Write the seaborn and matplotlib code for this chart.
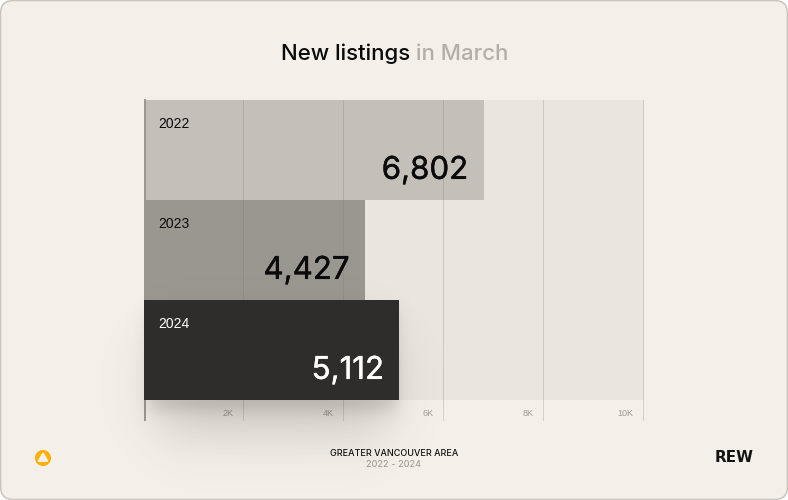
import numpy as np
import pandas as pd
import seaborn as sns
import matplotlib
matplotlib.use("Agg")
import matplotlib.pyplot as plt
import matplotlib.patheffects as pe
from matplotlib.patches import FancyBboxPatch, Circle, Polygon
from matplotlib.transforms import ScaledTranslation

years = ["2022", "2023", "2024"]
listings = [6802, 4427, 5112]
bar_colors = ["#C4BFB8", "#9A9690", "#2F2D2B"]
label_colors = ["#0A0A0A", "#0A0A0A", "#FFFFFF"]
tick_values = [2000, 4000, 6000, 8000, 10000]
tick_labels = ["2K", "4K", "6K", "8K", "10K"]

W, H = 788, 500
CARD = "#F4F0E9"
TRACK = "#EAE5DE"
FONT = ["Inter", "DejaVu Sans"]
NUM_FONT = ["Liberation Sans", "DejaVu Sans"]

sns.set_theme(style="white")
plt.rcParams["font.family"] = FONT

fig = plt.figure(figsize=(W / 100, H / 100), dpi=100, facecolor="white")

# Everything outside the chart is placed in pixel coordinates on a full-size layer
page = fig.add_axes([0, 0, 1, 1], zorder=0)
page.set_xlim(0, W)
page.set_ylim(H, 0)
page.axis("off")
page.add_patch(FancyBboxPatch((0.5, 0.5), W - 1, H - 1, boxstyle="round,pad=0,rounding_size=13",
                              fc=CARD, ec="#C9C5BD", lw=1.1))

ax = fig.add_axes([143.5 / W, 1 - 420 / H, 500 / W, 320 / H], zorder=1)
ax.patch.set_alpha(0)

df = pd.DataFrame({"year": years, "listings": listings})
sns.barplot(data=df, x="listings", y="year", hue="year", palette=bar_colors, order=years,
            hue_order=years, width=1.0, orient="h", legend=False, saturation=1,
            linewidth=0, ax=ax, zorder=2)

ax.set_xlim(0, 10000)
ax.set_ylim(2.7, -0.5)
ax.set_xlabel("")
ax.set_ylabel("")
ax.set_yticks([])

# Pale track behind the bars
ax.axhspan(-0.5, 2.5, xmin=0, xmax=1, color=TRACK, lw=0, zorder=1)

# Gridlines and tick labels sit above the lighter bars but under the front bar
ax.set_axisbelow(False)
ax.set_xticks(tick_values)
ax.set_xticklabels(tick_labels, family=NUM_FONT)
ax.tick_params(axis="x", length=0, pad=-8.2, labelsize=6.5, labelcolor="#9F9B94")
ax.grid(axis="x", color="#7F7A72", alpha=0.27, lw=0.72)
nudge = ScaledTranslation(-0.3 / 100, 0, fig.dpi_scale_trans)
for gl in ax.get_xgridlines():
    gl.set_clip_on(False)
    gl.set_transform(gl.get_transform() + nudge)
shift = ScaledTranslation(-10 / 100, 0, fig.dpi_scale_trans)
for lab in ax.get_xticklabels():
    lab.set_ha("right")
    lab.set_transform(lab.get_transform() + shift)

for side in ("top", "right", "bottom"):
    ax.spines[side].set_visible(False)
ax.spines["left"].set_color("#9C9890")
ax.spines["left"].set_linewidth(1.4)
ax.spines["left"].set_position(("outward", -1.2))
ax.spines["left"].set_zorder(2.55)

# Soft drop shadow cast by the front bar, built from a blurred rectangle
def blurred_box(nx, ny, x0, x1, y0, y1, sigma):
    xs, ys = np.arange(nx), np.arange(ny)
    kx = 0.5 * (np.tanh((xs - x0) / sigma) - np.tanh((xs - x1) / sigma))
    ky = 0.5 * (np.tanh((ys - y0) / sigma) - np.tanh((ys - y1) / sigma))
    return np.outer(ky, kx)

px_per_unit = 500 / 10000
bar_px = listings[2] * px_per_unit
margin = 90
nx, ny = int(bar_px) + 2 * margin, 100 + 2 * margin
soft = blurred_box(nx, ny, margin + 14, margin + bar_px - 14, margin + 34, margin + 100 + 34, 30)
tight = blurred_box(nx, ny, margin + 4, margin + bar_px - 4, margin + 10, margin + 100 + 10, 9)
alpha = 1 - (1 - 0.20 * soft) * (1 - 0.17 * tight)
rgba = np.zeros((ny, nx, 4))
rgba[..., :3] = np.array([0x3A, 0x34, 0x2C]) / 255
rgba[..., 3] = alpha
ax.imshow(rgba, extent=(-margin / px_per_unit, (bar_px + margin) / px_per_unit,
                        2.5 + margin / 100, 1.5 - margin / 100),
          aspect="auto", zorder=2.6, clip_on=False, interpolation="bilinear")
ax.set_xlim(0, 10000)
ax.set_ylim(2.7, -0.5)

# The last bar is lifted above its own shadow
for bar in ax.patches:
    if bar.get_width() == listings[2]:
        bar.set_zorder(3)

for i, (year, value, color) in enumerate(zip(years, listings, label_colors)):
    ax.annotate(year, xy=(0, i - 0.5), xytext=(10.8, -17), textcoords="offset points",
                fontsize=10, color=color, ha="left", va="center", zorder=5,
                annotation_clip=False, family=NUM_FONT)
    ax.annotate(f"{value:,}", xy=(value, i + 0.5), xytext=(-11, 21), textcoords="offset points",
                fontsize=22.5, color=color, ha="right", va="center", zorder=5,
                path_effects=[pe.withStroke(linewidth=0.3, foreground=color)])

# Two-tone heading: the grey part starts where the black part ends
head = page.text(281, 53.5, "New listings", fontsize=16, color="#0A0A0A", ha="left", va="center",
                 fontweight="medium")
fig.canvas.draw()
end = head.get_window_extent().x1
page.text(end + 6, 53.5, "in March", fontsize=16, color="#B3AFA8", ha="left", va="center",
          fontweight="medium")

# Footer
page.text(394, 453.5, "GREATER VANCOUVER AREA", fontsize=6.5, color="#111111", ha="center",
          va="center", fontweight="medium")
page.text(394, 464.5, "2022 - 2024", fontsize=6.6, color="#9A968F", ha="center", va="center")
page.text(734, 458, "REW", fontsize=11, color="#141414", ha="center", va="center",
          fontweight="bold", family="DejaVu Sans")

page.add_patch(Circle((43, 458), 8, fc="#FFB000", ec="none"))
page.add_patch(Polygon([(43, 453.5), (47.2, 461), (38.8, 461)], closed=True, fc=CARD, ec=CARD,
                       lw=1.5, joinstyle="round"))

fig.savefig("out.png", dpi=100, facecolor="white")
